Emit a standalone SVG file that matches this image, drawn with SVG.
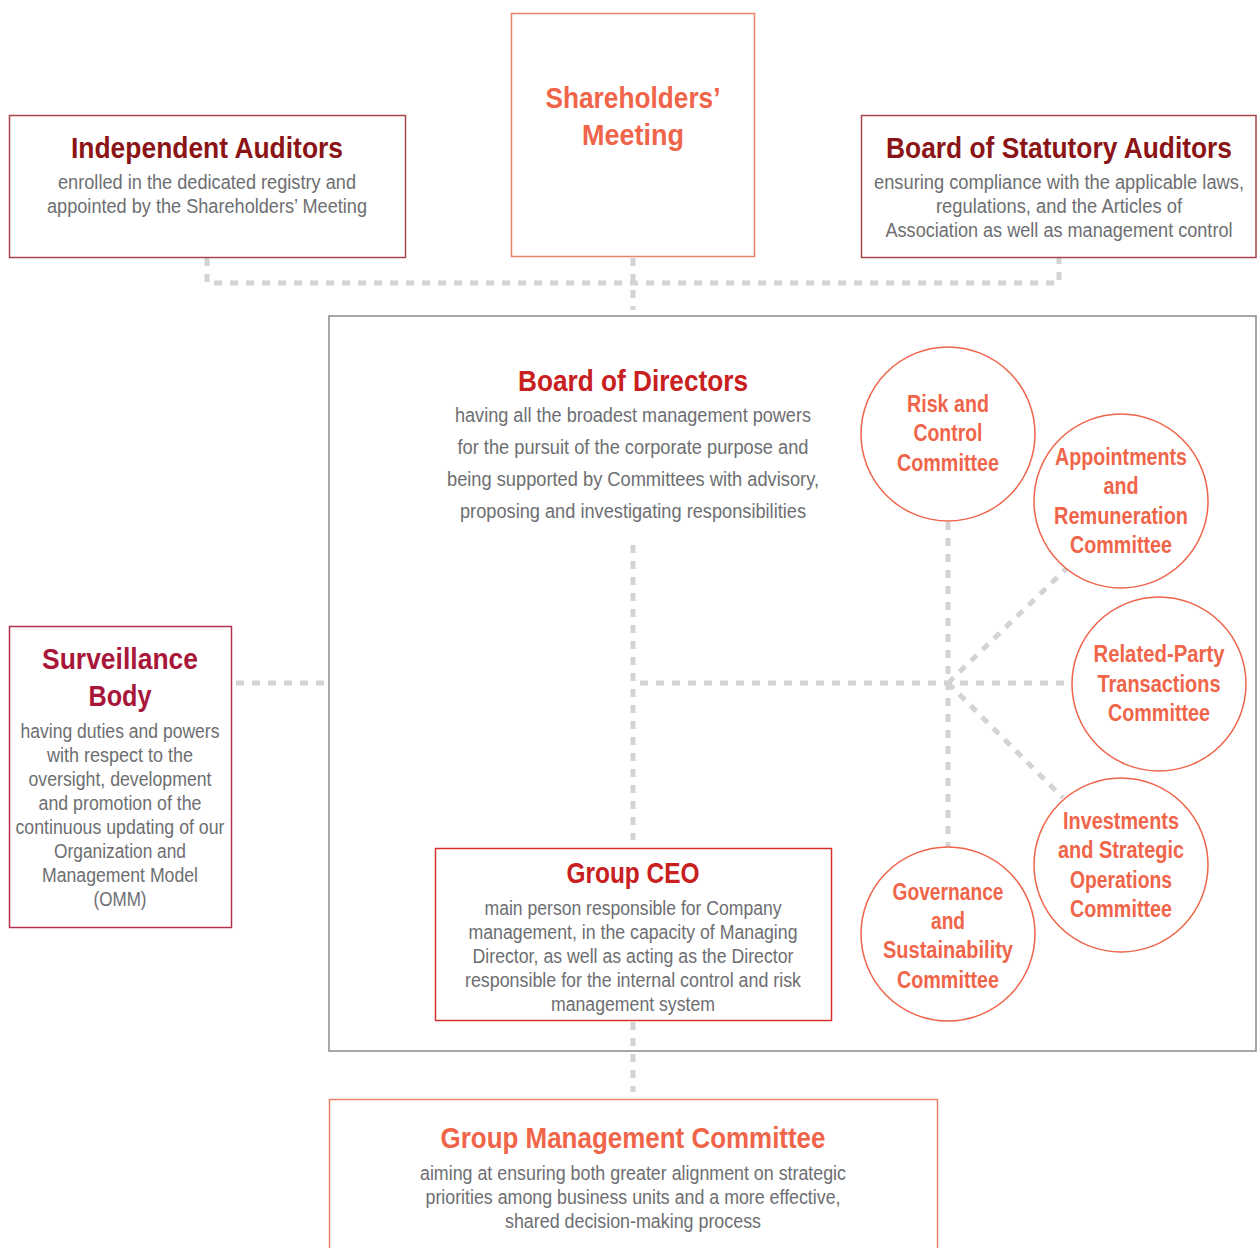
<svg xmlns="http://www.w3.org/2000/svg" width="1257" height="1248" viewBox="0 0 1257 1248">
<style>
text{font-family:"Liberation Sans",Arial,sans-serif;text-anchor:middle}
.t{font-weight:bold;font-size:30px}
.b{font-size:20px;fill:#6d6e71}
.c{font-weight:bold;font-size:23.5px;fill:#f0654a}
.dash{stroke:#d3d3d4;stroke-width:5;stroke-dasharray:8 8;fill:none}
.circ{fill:#fff;stroke:#ef6448;stroke-width:1.5}
</style>
<rect width="1257" height="1248" fill="#fff"/>
<g id="connectors">
<path class="dash" d="M207 258V283H1059V258"/>
<path class="dash" d="M633 258V310"/>
<path class="dash" d="M236 683H325"/>
<path class="dash" d="M633 545V840"/>
<path class="dash" d="M640 683H1072"/>
<path class="dash" d="M948 522V848"/>
<path class="dash" d="M948 683L1067 568"/>
<path class="dash" d="M948 683L1063 798"/>
<path class="dash" d="M633 1022V1092"/>
</g>
<g id="board">
<rect x="329" y="316" width="927" height="735" fill="none" stroke="#8a8a8a" stroke-width="1.5"/>
<text class="t" x="633" y="391" fill="#c8201e" textLength="230" lengthAdjust="spacingAndGlyphs">Board of Directors</text>
<text class="b" x="633" y="422" textLength="356" lengthAdjust="spacingAndGlyphs">having all the broadest management powers</text>
<text class="b" x="633" y="454" textLength="351" lengthAdjust="spacingAndGlyphs">for the pursuit of the corporate purpose and</text>
<text class="b" x="633" y="486" textLength="372" lengthAdjust="spacingAndGlyphs">being supported by Committees with advisory,</text>
<text class="b" x="633" y="518" textLength="346" lengthAdjust="spacingAndGlyphs">proposing and investigating responsibilities</text>
</g>
<g id="independent-auditors">
<rect x="9.5" y="115.5" width="396" height="142" fill="#fff" stroke="#a9444a" stroke-width="1.5"/>
<text class="t" x="207" y="158" fill="#8b1516" textLength="272" lengthAdjust="spacingAndGlyphs">Independent Auditors</text>
<text class="b" x="207" y="189" textLength="298" lengthAdjust="spacingAndGlyphs">enrolled in the dedicated registry and</text>
<text class="b" x="207" y="213" textLength="320" lengthAdjust="spacingAndGlyphs">appointed by the Shareholders’ Meeting</text>
</g>
<g id="shareholders-meeting">
<rect x="511.5" y="13.5" width="243" height="243" fill="#fff" stroke="#f08069" stroke-width="1.5"/>
<text class="t" x="633" y="108" fill="#f0654a" textLength="175" lengthAdjust="spacingAndGlyphs">Shareholders’</text>
<text class="t" x="633" y="145" fill="#f0654a" textLength="102" lengthAdjust="spacingAndGlyphs">Meeting</text>
</g>
<g id="statutory-auditors">
<rect x="861.5" y="115.5" width="394.5" height="142" fill="#fff" stroke="#a9444a" stroke-width="1.5"/>
<text class="t" x="1059" y="158" fill="#8b1516" textLength="346" lengthAdjust="spacingAndGlyphs">Board of Statutory Auditors</text>
<text class="b" x="1059" y="189" textLength="370" lengthAdjust="spacingAndGlyphs">ensuring compliance with the applicable laws,</text>
<text class="b" x="1059" y="213" textLength="246" lengthAdjust="spacingAndGlyphs">regulations, and the Articles of</text>
<text class="b" x="1059" y="237" textLength="347" lengthAdjust="spacingAndGlyphs">Association as well as management control</text>
</g>
<g id="surveillance-body">
<rect x="9.5" y="626.5" width="222" height="301" fill="#fff" stroke="#b5304e" stroke-width="1.5"/>
<text class="t" x="120" y="669" fill="#a8173a" textLength="156" lengthAdjust="spacingAndGlyphs">Surveillance</text>
<text class="t" x="120" y="706" fill="#a8173a" textLength="63" lengthAdjust="spacingAndGlyphs">Body</text>
<text class="b" x="120" y="738" textLength="199" lengthAdjust="spacingAndGlyphs">having duties and powers</text>
<text class="b" x="120" y="762" textLength="146" lengthAdjust="spacingAndGlyphs">with respect to the</text>
<text class="b" x="120" y="786" textLength="183" lengthAdjust="spacingAndGlyphs">oversight, development</text>
<text class="b" x="120" y="810" textLength="163" lengthAdjust="spacingAndGlyphs">and promotion of the</text>
<text class="b" x="120" y="834" textLength="209" lengthAdjust="spacingAndGlyphs">continuous updating of our</text>
<text class="b" x="120" y="858" textLength="132" lengthAdjust="spacingAndGlyphs">Organization and</text>
<text class="b" x="120" y="882" textLength="156" lengthAdjust="spacingAndGlyphs">Management Model</text>
<text class="b" x="120" y="906" textLength="53" lengthAdjust="spacingAndGlyphs">(OMM)</text>
</g>
<g id="risk-control">
<circle class="circ" cx="948" cy="434" r="87"/>
<text class="c" x="948" y="412" textLength="82" lengthAdjust="spacingAndGlyphs">Risk and</text>
<text class="c" x="948" y="441" textLength="69" lengthAdjust="spacingAndGlyphs">Control</text>
<text class="c" x="948" y="471" textLength="102" lengthAdjust="spacingAndGlyphs">Committee</text>
</g>
<g id="appointments">
<circle class="circ" cx="1121" cy="501" r="87"/>
<text class="c" x="1121" y="465" textLength="132" lengthAdjust="spacingAndGlyphs">Appointments</text>
<text class="c" x="1121" y="494" textLength="35" lengthAdjust="spacingAndGlyphs">and</text>
<text class="c" x="1121" y="524" textLength="134" lengthAdjust="spacingAndGlyphs">Remuneration</text>
<text class="c" x="1121" y="553" textLength="102" lengthAdjust="spacingAndGlyphs">Committee</text>
</g>
<g id="related-party">
<circle class="circ" cx="1159" cy="684" r="87"/>
<text class="c" x="1159" y="662" textLength="131" lengthAdjust="spacingAndGlyphs">Related-Party</text>
<text class="c" x="1159" y="692" textLength="123" lengthAdjust="spacingAndGlyphs">Transactions</text>
<text class="c" x="1159" y="721" textLength="102" lengthAdjust="spacingAndGlyphs">Committee</text>
</g>
<g id="investments">
<circle class="circ" cx="1121" cy="865" r="87"/>
<text class="c" x="1121" y="829" textLength="116" lengthAdjust="spacingAndGlyphs">Investments</text>
<text class="c" x="1121" y="858" textLength="126" lengthAdjust="spacingAndGlyphs">and Strategic</text>
<text class="c" x="1121" y="888" textLength="102" lengthAdjust="spacingAndGlyphs">Operations</text>
<text class="c" x="1121" y="917" textLength="102" lengthAdjust="spacingAndGlyphs">Committee</text>
</g>
<g id="governance">
<circle class="circ" cx="948" cy="934" r="87"/>
<text class="c" x="948" y="900" textLength="111" lengthAdjust="spacingAndGlyphs">Governance</text>
<text class="c" x="948" y="929" textLength="34" lengthAdjust="spacingAndGlyphs">and</text>
<text class="c" x="948" y="958" textLength="130" lengthAdjust="spacingAndGlyphs">Sustainability</text>
<text class="c" x="948" y="988" textLength="102" lengthAdjust="spacingAndGlyphs">Committee</text>
</g>
<g id="group-ceo">
<rect x="435.5" y="848.5" width="396" height="172" fill="#fff" stroke="#d3312c" stroke-width="1.5"/>
<text class="t" x="633" y="883" fill="#c8201e" textLength="133" lengthAdjust="spacingAndGlyphs">Group CEO</text>
<text class="b" x="633" y="915" textLength="297" lengthAdjust="spacingAndGlyphs">main person responsible for Company</text>
<text class="b" x="633" y="939" textLength="329" lengthAdjust="spacingAndGlyphs">management, in the capacity of Managing</text>
<text class="b" x="633" y="963" textLength="321" lengthAdjust="spacingAndGlyphs">Director, as well as acting as the Director</text>
<text class="b" x="633" y="987" textLength="336" lengthAdjust="spacingAndGlyphs">responsible for the internal control and risk</text>
<text class="b" x="633" y="1011" textLength="164" lengthAdjust="spacingAndGlyphs">management system</text>
</g>
<g id="group-management-committee">
<rect x="329.5" y="1099.5" width="608" height="160" fill="#fff" stroke="#f08069" stroke-width="1.5"/>
<text class="t" x="633" y="1148" fill="#f0654a" textLength="385" lengthAdjust="spacingAndGlyphs">Group Management Committee</text>
<text class="b" x="633" y="1180" textLength="426" lengthAdjust="spacingAndGlyphs">aiming at ensuring both greater alignment on strategic</text>
<text class="b" x="633" y="1204" textLength="415" lengthAdjust="spacingAndGlyphs">priorities among business units and a more effective,</text>
<text class="b" x="633" y="1228" textLength="256" lengthAdjust="spacingAndGlyphs">shared decision-making process</text>
</g>
</svg>
